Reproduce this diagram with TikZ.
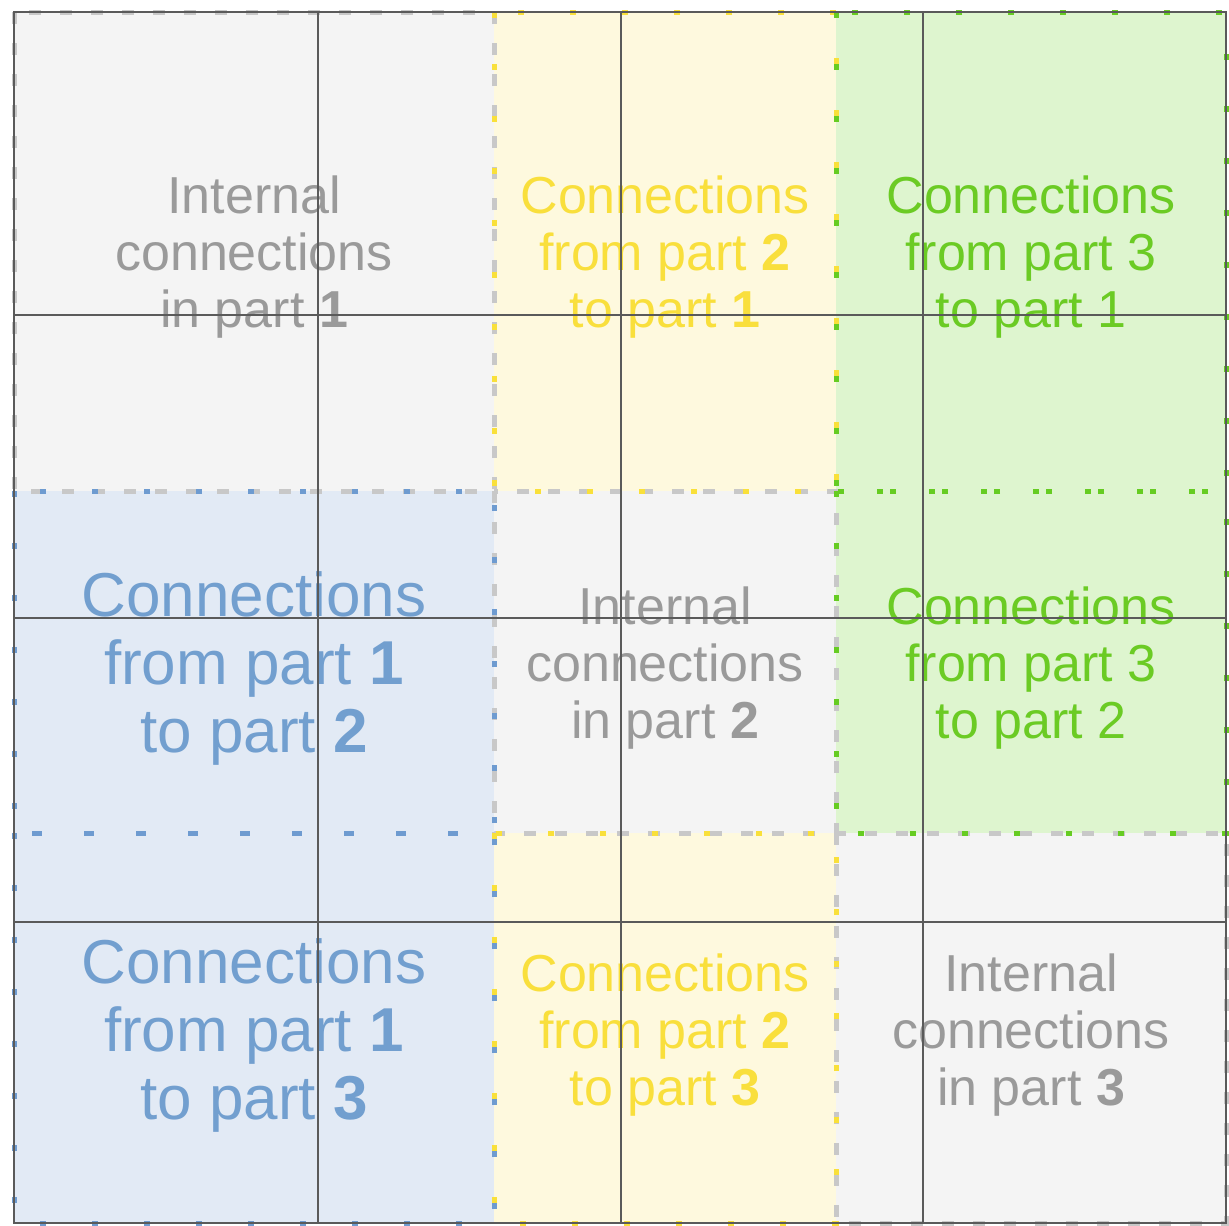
\documentclass[tikz,border=0pt]{standalone}
\usepackage{fontspec}
\setmainfont{Liberation Sans}
\definecolor{greyfill}{HTML}{F4F4F4}
\definecolor{yellowfill}{HTML}{FEF9DE}
\definecolor{greenfill}{HTML}{DEF5CF}
\definecolor{bluefill}{HTML}{E2EAF5}
\definecolor{greytext}{HTML}{9A9A9A}
\definecolor{yellowtext}{HTML}{F9DF3C}
\definecolor{greentext}{HTML}{6BCB24}
\definecolor{bluetext}{HTML}{729FCF}
\definecolor{greydash}{HTML}{C8C8C8}
\definecolor{yellowdot}{HTML}{F9E03A}
\definecolor{greendot}{HTML}{66CC22}
\definecolor{bluedot}{HTML}{6E9BD0}
\definecolor{gridline}{HTML}{5A5A5A}
\tikzset{
  greyedge/.style={draw=greydash, line width=5pt, dash pattern=on 12pt off 19pt},
  dotedge/.style={draw=#1, line width=5pt, dash pattern=on 6pt off 46pt},
  gridrule/.style={draw=gridline, line width=1.8pt},
  lbl/.style={align=center, inner sep=0pt},
  smalltxt/.style={lbl, font=\fontsize{52}{57}\selectfont},
  bigtxt/.style={lbl, font=\fontsize{62}{68}\selectfont}
}
\begin{document}
\begin{tikzpicture}[x=1pt,y=-1pt]
\useasboundingbox (0,0) rectangle (1229,1226);
% block fills
\fill[greyfill]   (14,12)   rectangle (494,491);
\fill[greyfill]   (494,491) rectangle (836,833);
\fill[greyfill]   (836,833) rectangle (1226,1223);
\fill[bluefill]   (14,491)  rectangle (494,833);
\fill[bluefill]   (14,833)  rectangle (494,1223);
\fill[yellowfill] (494,12)  rectangle (836,491);
\fill[yellowfill] (494,833) rectangle (836,1223);
\fill[greenfill]  (836,12)  rectangle (1226,491);
\fill[greenfill]  (836,491) rectangle (1226,833);
% block outlines
\draw[greyedge] (14,12)   rectangle (494,491);
\draw[greyedge] (494,491) rectangle (836,833);
\draw[greyedge] (836,833) rectangle (1226,1223);
\draw[dotedge=bluedot]   (14,491)  rectangle (494,833);
\draw[dotedge=bluedot]   (14,833)  rectangle (494,1223);
\draw[dotedge=yellowdot] (494,12)  rectangle (836,491);
\draw[dotedge=yellowdot] (494,833) rectangle (836,1223);
\draw[dotedge=greendot]  (836,12)  rectangle (1226,491);
\draw[dotedge=greendot]  (836,491) rectangle (1226,833);
% labels
\node[smalltxt, text=greytext]   (in1)  at (254,257)  {Internal\\connections\\in part \textbf{1}};
\node[smalltxt, text=yellowtext] (c21)  at (665,257)  {Connections\\from part \textbf{2}\\to part \textbf{1}};
\node[smalltxt, text=greentext]  (c31)  at (1031,257) {Connections\\from part 3\\to part 1};
\node[bigtxt,   text=bluetext]   (c12)  at (254,668)  {Connections\\from part \textbf{1}\\to part \textbf{2}};
\node[smalltxt, text=greytext]   (in2)  at (665,668)  {Internal\\connections\\in part \textbf{2}};
\node[smalltxt, text=greentext]  (c32)  at (1031,668) {Connections\\from part 3\\to part 2};
\node[bigtxt,   text=bluetext]   (c13)  at (254,1035) {Connections\\from part \textbf{1}\\to part \textbf{3}};
\node[smalltxt, text=yellowtext] (c23)  at (665,1035) {Connections\\from part \textbf{2}\\to part \textbf{3}};
\node[smalltxt, text=greytext]   (in3)  at (1031,1035){Internal\\connections\\in part \textbf{3}};
% grid rules
\foreach \gx in {318,621,923} \draw[gridrule] (\gx,12) -- (\gx,1223);
\foreach \gy in {315,618,922} \draw[gridrule] (14,\gy) -- (1226,\gy);
\draw[gridrule] (14,12) rectangle (1226,1223);
\end{tikzpicture}
\end{document}
